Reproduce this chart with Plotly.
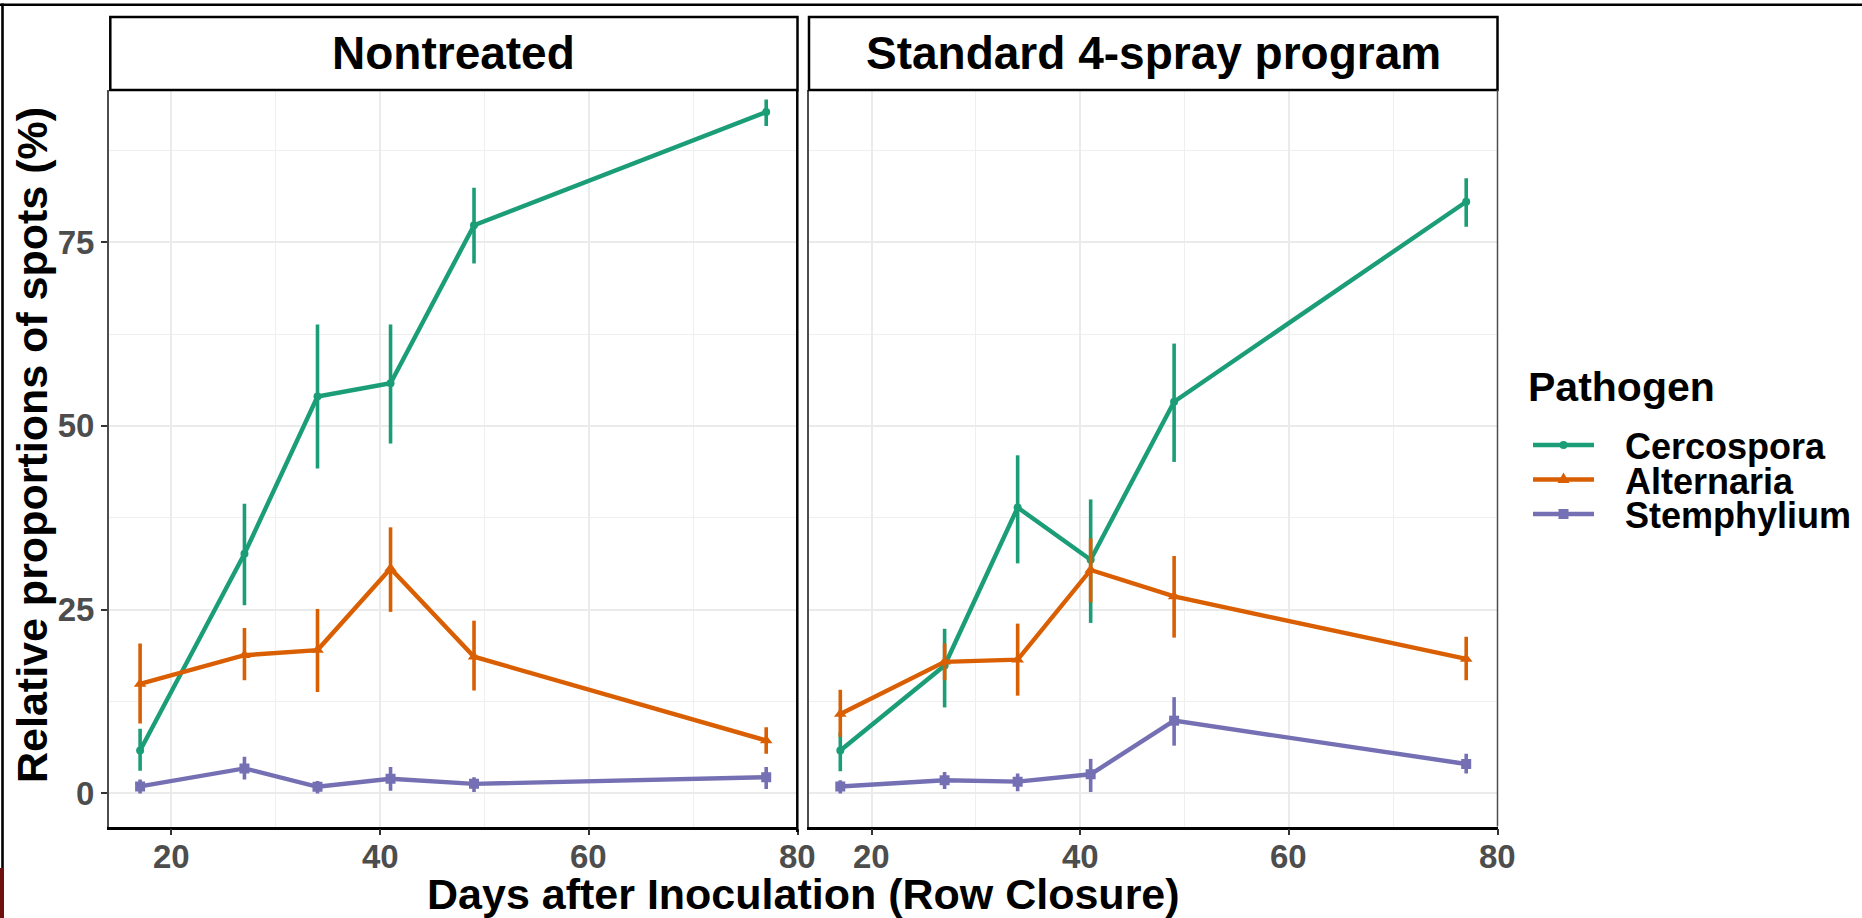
import plotly.graph_objects as go

# ---------------- data ----------------
days = [17, 27, 34, 41, 49, 77]
pathogens = ["Cercospora", "Alternaria", "Stemphylium"]
panels = ["Nontreated", "Standard 4-spray program"]
x_ticks = [20, 40, 60, 80]
y_ticks = [0, 25, 50, 75]

# Nontreated: means, upper and lower error limits
nt_cerc = [5.85, 32.6, 54.0, 55.8, 77.3, 92.7]
nt_cerc_hi = [8.8, 39.4, 63.8, 63.8, 82.4, 94.4]
nt_cerc_lo = [3.1, 25.6, 44.2, 47.6, 72.1, 90.8]

nt_alt = [14.9, 18.8, 19.5, 30.6, 18.6, 7.2]
nt_alt_hi = [20.4, 22.5, 25.1, 36.2, 23.5, 9.0]
nt_alt_lo = [9.5, 15.4, 13.8, 24.7, 14.0, 5.4]

nt_stem = [0.95, 3.4, 0.9, 2.0, 1.3, 2.2]
nt_stem_hi = [1.9, 5.0, 1.7, 3.6, 2.2, 3.6]
nt_stem_lo = [0.0, 1.9, 0.0, 0.35, 0.2, 0.6]

# Standard 4-spray program
sp_cerc = [5.85, 17.4, 38.9, 31.8, 53.3, 80.5]
sp_cerc_hi = [8.3, 22.4, 46.0, 40.0, 61.2, 83.7]
sp_cerc_lo = [3.0, 11.7, 31.3, 23.2, 45.1, 77.1]

sp_alt = [10.8, 17.9, 18.2, 30.4, 26.8, 18.3]
sp_alt_hi = [14.1, 20.4, 23.1, 34.7, 32.3, 21.3]
sp_alt_lo = [7.7, 15.4, 13.3, 26.0, 21.2, 15.4]

sp_stem = [0.95, 1.8, 1.6, 2.6, 9.9, 4.0]
sp_stem_hi = [1.8, 2.9, 2.7, 4.7, 13.1, 5.4]
sp_stem_lo = [0.0, 0.6, 0.3, 0.2, 6.5, 2.7]

series = {
    "Nontreated": [(nt_cerc, nt_cerc_hi, nt_cerc_lo),
                   (nt_alt, nt_alt_hi, nt_alt_lo),
                   (nt_stem, nt_stem_hi, nt_stem_lo)],
    "Standard 4-spray program": [(sp_cerc, sp_cerc_hi, sp_cerc_lo),
                                 (sp_alt, sp_alt_hi, sp_alt_lo),
                                 (sp_stem, sp_stem_hi, sp_stem_lo)],
}

# ---------------- styling ----------------
W, H = 1862, 918
FONT = "Liberation Sans, Arial, Helvetica, sans-serif"
colors = ["#1B9E77", "#D95F02", "#7570B3"]
symbols = ["circle", "triangle-up", "square"]
msizes = [8, 11, 10]


def px(x):
    return x / W


def py(y):
    return 1 - y / H


# panel geometry (pixels)
P_TOP, P_BOT = 90.0, 826.5
STRIP_TOP = 17.0
PANEL_X = [(108.8, 797.5), (809.0, 1497.5)]

fig = go.Figure()

for pi, panel in enumerate(panels):
    xa = "x" if pi == 0 else "x2"
    ya = "y" if pi == 0 else "y2"
    for si, (vals, hi, lo) in enumerate(series[panel]):
        fig.add_trace(go.Scatter(
            x=days, y=vals, xaxis=xa, yaxis=ya,
            mode="lines+markers", name=pathogens[si], showlegend=False,
            line=dict(color=colors[si], width=4.4),
            marker=dict(symbol=symbols[si], size=msizes[si], color=colors[si],
                        line=dict(width=0)),
            error_y=dict(type="data", symmetric=False,
                         array=[h - v for h, v in zip(hi, vals)],
                         arrayminus=[v - l for v, l in zip(vals, lo)],
                         color=colors[si], thickness=3.6, width=0),
        ))

xcommon = dict(
    range=[14, 80], tickmode="array", tickvals=x_ticks, showticklabels=False,
    ticks="outside", ticklen=6, tickwidth=1.5, tickcolor="#333333",
    showgrid=True, gridcolor="#EBEBEB", gridwidth=1.6,
    minor=dict(tickmode="array", tickvals=[30, 50, 70], showgrid=True,
               gridcolor="#EFEFEF", gridwidth=1.0, ticks=""),
    showline=True, linecolor="black", linewidth=2.5,
    zeroline=False, automargin=False, fixedrange=True,
)
ycommon = dict(
    range=[-4.5, 95.7], tickmode="array", tickvals=y_ticks,
    domain=[py(P_BOT), py(P_TOP)],
    showgrid=True, gridcolor="#EBEBEB", gridwidth=1.6,
    minor=dict(tickmode="array", tickvals=[12.5, 37.5, 62.5, 87.5], showgrid=True,
               gridcolor="#EFEFEF", gridwidth=1.0, ticks=""),
    showline=True, linecolor="#4D4D4D", linewidth=1.5,
    zeroline=False, automargin=False, fixedrange=True,
)

fig.update_layout(
    width=W, height=H,
    margin=dict(l=0, r=0, t=0, b=0),
    paper_bgcolor="white", plot_bgcolor="white",
    showlegend=False,
    xaxis=dict(domain=[px(PANEL_X[0][0]), px(PANEL_X[0][1])], anchor="y", **xcommon),
    xaxis2=dict(domain=[px(PANEL_X[1][0]), px(PANEL_X[1][1])], anchor="y2", **xcommon),
    yaxis=dict(anchor="x", ticks="outside", ticklen=6, tickwidth=1.5, tickcolor="#333333",
               tickfont=dict(family=FONT, size=33, color="#4D4D4D", weight="bold"),
               **ycommon),
    yaxis2=dict(anchor="x2", matches="y", showticklabels=False, ticks="", **ycommon),
)

shapes = []
annotations = []

# x tick labels placed on the library's x scales
for xref in ["x", "x2"]:
    for t in x_ticks:
        annotations.append(dict(xref=xref, yref="paper", x=t, y=py(856.5),
                                text=str(t), showarrow=False,
                                xanchor="center", yanchor="middle",
                                font=dict(family=FONT, size=33, color="#4D4D4D",
                                          weight="bold")))

# strips
for pi, panel in enumerate(panels):
    x0 = PANEL_X[pi][0] + (1.5 if pi == 0 else 0)
    x1 = PANEL_X[pi][1]
    shapes.append(dict(type="rect", xref="paper", yref="paper",
                       x0=px(x0), x1=px(x1), y0=py(P_TOP), y1=py(STRIP_TOP),
                       line=dict(color="black", width=2.5), fillcolor="white"))
    annotations.append(dict(xref="paper", yref="paper", x=px((x0 + x1) / 2), y=py(53),
                            text=panel, showarrow=False, xanchor="center", yanchor="middle",
                            font=dict(family=FONT, size=46, color="black", weight="bold")))

# panel right edges
shapes.append(dict(type="line", xref="paper", yref="paper",
                   x0=px(797.3), x1=px(797.3), y0=py(P_TOP), y1=py(832),
                   line=dict(color="black", width=2.5)))
shapes.append(dict(type="line", xref="paper", yref="paper",
                   x0=px(1497.5), x1=px(1497.5), y0=py(P_TOP), y1=py(P_BOT),
                   line=dict(color="#4D4D4D", width=1.5)))

# outer frame bits of the original image
shapes.append(dict(type="line", xref="paper", yref="paper",
                   x0=0, x1=1, y0=py(4.7), y1=py(4.7),
                   line=dict(color="black", width=2.6)))
shapes.append(dict(type="line", xref="paper", yref="paper",
                   x0=px(2.5), x1=px(2.5), y0=py(3.5), y1=py(868),
                   line=dict(color="black", width=2.6)))
shapes.append(dict(type="rect", xref="paper", yref="paper",
                   x0=0, x1=px(4), y0=py(918), y1=py(868),
                   line=dict(width=0), fillcolor="#6E1010"))

# axis titles
annotations.append(dict(xref="paper", yref="paper", x=px(803), y=py(894),
                        text="Days after Inoculation (Row Closure)", showarrow=False,
                        xanchor="center", yanchor="middle",
                        font=dict(family=FONT, size=43, color="black", weight="bold")))
annotations.append(dict(xref="paper", yref="paper", x=px(32), y=py(445),
                        text="Relative proportions of spots (%)", showarrow=False,
                        textangle=-90, xanchor="center", yanchor="middle",
                        font=dict(family=FONT, size=43, color="black", weight="bold")))

# legend (drawn manually)
annotations.append(dict(xref="paper", yref="paper", x=px(1526), y=py(386.5),
                        text="Pathogen", showarrow=False, xanchor="left", yanchor="middle",
                        font=dict(family=FONT, size=41, color="black", weight="bold")))
leg_y = [445, 479.5, 514]
gx0, gx1, gxc = 1533, 1594, 1563.5
for i, name in enumerate(pathogens):
    yy = leg_y[i]
    shapes.append(dict(type="line", xref="paper", yref="paper",
                       x0=px(gx0), x1=px(gx1), y0=py(yy), y1=py(yy),
                       line=dict(color=colors[i], width=4.6)))
    if symbols[i] == "circle":
        r = 4
        shapes.append(dict(type="circle", xref="paper", yref="paper",
                           x0=px(gxc - r), x1=px(gxc + r), y0=py(yy + r), y1=py(yy - r),
                           line=dict(width=0), fillcolor=colors[i]))
    elif symbols[i] == "triangle-up":
        path = "M {},{} L {},{} L {},{} Z".format(px(gxc - 6), py(yy + 3.5), px(gxc + 6), py(yy + 3.5),
                                                  px(gxc), py(yy - 7))
        shapes.append(dict(type="path", xref="paper", yref="paper", path=path,
                           line=dict(width=0), fillcolor=colors[i]))
    else:
        s = 5
        shapes.append(dict(type="rect", xref="paper", yref="paper",
                           x0=px(gxc - s), x1=px(gxc + s), y0=py(yy + s), y1=py(yy - s),
                           line=dict(width=0), fillcolor=colors[i]))
    annotations.append(dict(xref="paper", yref="paper", x=px(1623), y=py(yy + 1.5),
                            text=name, showarrow=False, xanchor="left", yanchor="middle",
                            font=dict(family=FONT, size=36, color="black", weight="bold")))

fig.update_layout(shapes=shapes, annotations=annotations)

fig.write_html("out.html")
